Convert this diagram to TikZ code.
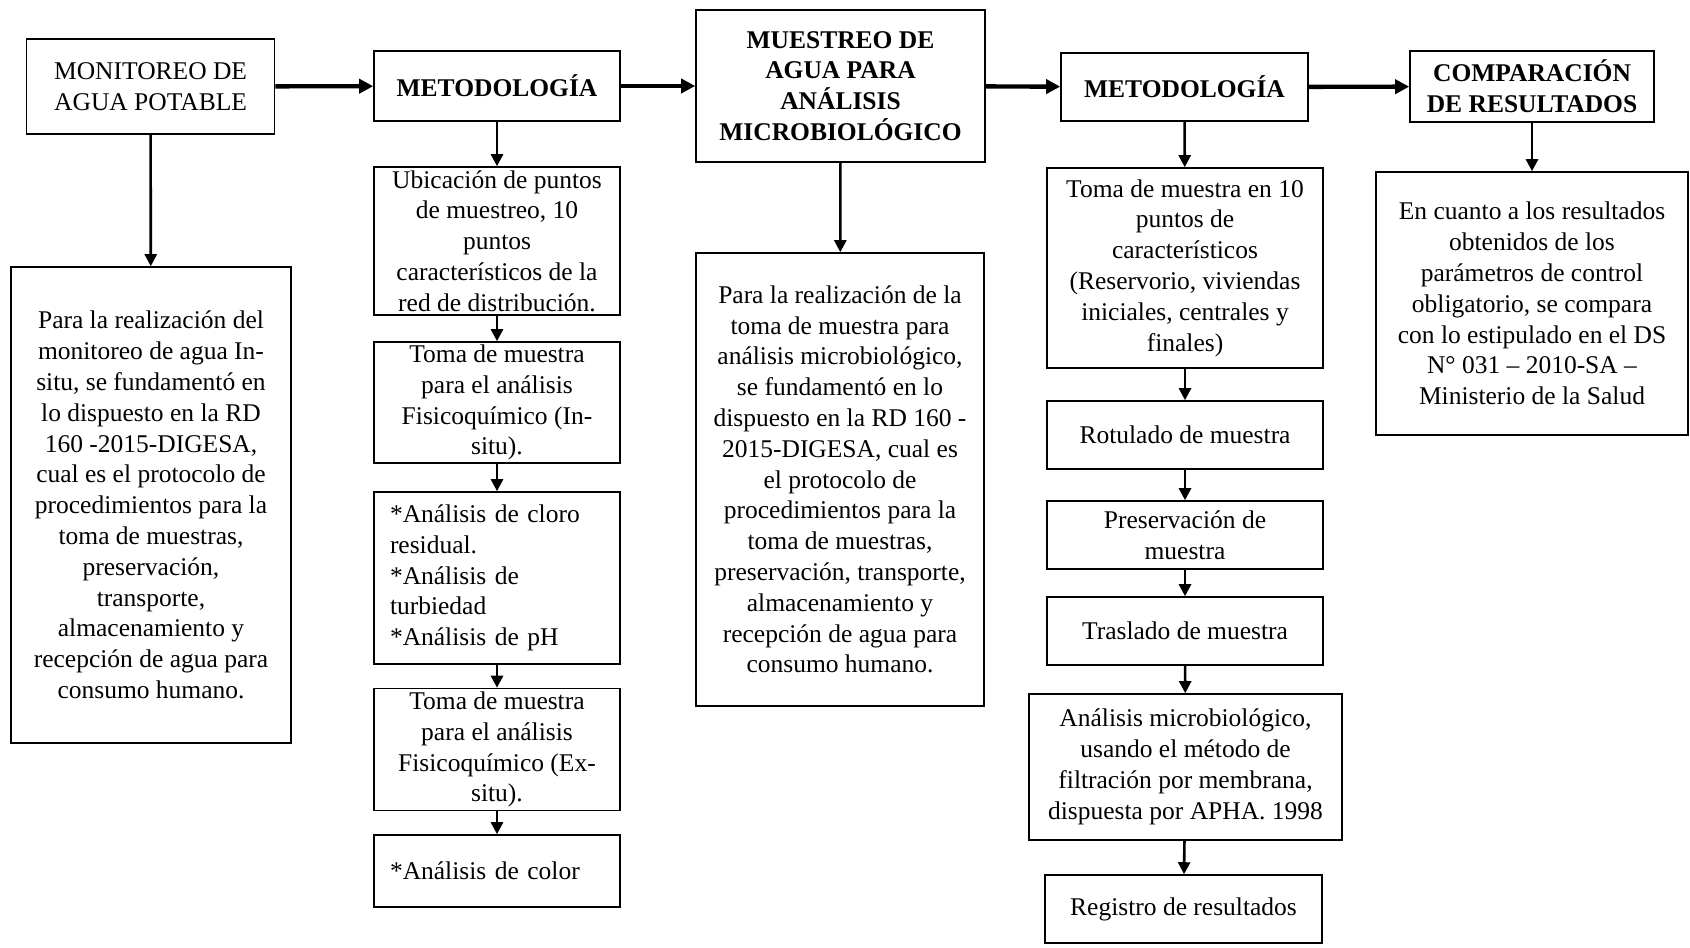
\documentclass[tikz,border=0pt]{standalone}
\usepackage{fontspec}
\setmainfont{Liberation Serif}
\usetikzlibrary{arrows.meta}
\newcommand\fsz{\fontsize{12.75}{15.4}\selectfont}
\begin{document}
\begin{tikzpicture}[x=0.5pt,y=-0.5pt,
  bx/.style={draw, line width=0.8pt, inner xsep=2pt, inner ysep=0pt, align=center, font=\fsz},
  bxl/.style={bx, align=left, inner xsep=8pt, text width=107pt},
  harrow/.style={line width=2.2pt, -{Triangle[length=7pt,width=7pt]}},
  varrow/.style={line width=1.3pt, -{Triangle[length=6pt,width=6pt]}}]
\useasboundingbox (0,0) rectangle (1690,947);
% top row
\node[bx, minimum width=124pt, minimum height=47.5pt] (mon) at (150.6,86.5) {MONITOREO DE\\AGUA POTABLE};
\node[bx, minimum width=123pt, minimum height=35pt, font=\fsz\bfseries] (m1) at (497,86) {METODOLOGÍA};
\node[bx, minimum width=144.5pt, minimum height=76pt, font=\fsz\bfseries] (mu) at (840.5,86) {MUESTREO DE\\AGUA PARA\\ANÁLISIS\\MICROBIOLÓGICO};
\node[bx, minimum width=123.5pt, minimum height=34pt, font=\fsz\bfseries] (m2) at (1184.5,87) {METODOLOGÍA};
\node[bx, minimum width=122pt, minimum height=35.5pt, font=\fsz\bfseries] (cmp) at (1532,86.5) {COMPARACIÓN\\DE RESULTADOS};
% column 1
\node[bx, minimum width=140pt, minimum height=238pt] (pl) at (151,505) {Para la realización del\\monitoreo de agua In-\\situ, se fundamentó en\\lo dispuesto en la RD\\160 -2015-DIGESA,\\cual es el protocolo de\\procedimientos para la\\toma de muestras,\\preservación,\\transporte,\\almacenamiento y\\recepción de agua para\\consumo humano.};
% column 2
\node[bx, minimum width=123pt, minimum height=74pt] (ub) at (497,241) {Ubicación de puntos\\de muestreo, 10\\puntos\\característicos de la\\red de distribución.};
\node[bx, minimum width=123pt, minimum height=60.5pt] (t1) at (497,402.5) {Toma de muestra\\para el análisis\\Fisicoquímico (In-\\situ).};
\node[bxl, minimum width=123pt, minimum height=86pt] (cl) at (497,578) {{*}Análisis de cloro\\{}residual.\\{}{*}Análisis de\\{}turbiedad\\{}{*}Análisis de pH};
\node[bx, minimum width=123pt, minimum height=61pt] (t2) at (497,749.5) {Toma de muestra\\para el análisis\\Fisicoquímico (Ex-\\situ).};
\node[bxl, minimum width=123pt, minimum height=36pt] (co) at (497,871) {{*}Análisis de color};
% column 3
\node[bx, minimum width=144pt, minimum height=226.5pt] (pm) at (840,479.5) {Para la realización de la\\toma de muestra para\\análisis microbiológico,\\se fundamentó en lo\\dispuesto en la RD 160 -\\2015-DIGESA, cual es\\el protocolo de\\procedimientos para la\\toma de muestras,\\preservación, transporte,\\almacenamiento y\\recepción de agua para\\consumo humano.};
% column 4
\node[bx, minimum width=138pt, minimum height=100pt] (tm) at (1185,268) {Toma de muestra en 10\\puntos de\\característicos\\(Reservorio, viviendas\\iniciales, centrales y\\finales)};
\node[bx, minimum width=138pt, minimum height=34pt] (ro) at (1185,435) {Rotulado de muestra};
\node[bx, minimum width=138pt, minimum height=34pt] (pr) at (1185,535) {Preservación de\\muestra};
\node[bx, minimum width=138pt, minimum height=34pt] (tr) at (1185,631) {Traslado de muestra};
\node[bx, minimum width=156.5pt, minimum height=73pt] (am) at (1185.5,767) {Análisis microbiológico,\\usando el método de\\filtración por membrana,\\dispuesta por APHA. 1998};
\node[bx, minimum width=138.5pt, minimum height=34pt] (re) at (1183.5,909) {Registro de resultados};
% column 5
\node[bx, minimum width=156pt, minimum height=131.5pt] (en) at (1532,303.5) {En cuanto a los resultados\\obtenidos de los\\parámetros de control\\obligatorio, se compara\\con lo estipulado en el DS\\N° 031 – 2010-SA –\\Ministerio de la Salud};
% horizontal arrows
\draw[harrow] (mon) -- (m1);
\draw[harrow] (m1) -- (mu);
\draw[harrow] (mu) -- (m2);
\draw[harrow] (m2) -- (cmp);
% vertical arrows
\draw[varrow] (mon) -- (pl);
\draw[varrow] (m1) -- (ub);
\draw[varrow] (ub) -- (t1);
\draw[varrow] (t1) -- (cl);
\draw[varrow] (cl) -- (t2);
\draw[varrow] (t2) -- (co);
\draw[varrow] (mu) -- (pm);
\draw[varrow] (m2) -- (tm);
\draw[varrow] (tm) -- (ro);
\draw[varrow] (ro) -- (pr);
\draw[varrow] (pr) -- (tr);
\draw[varrow] (tr) -- (am);
\draw[varrow] (am) -- (re);
\draw[varrow] (cmp) -- (en);
\end{tikzpicture}
\end{document}
